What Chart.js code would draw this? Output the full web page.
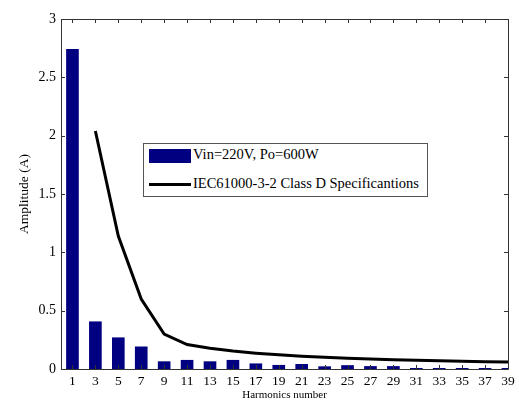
<!DOCTYPE html>
<html>
<head>
<meta charset="utf-8">
<script src="https://cdn.jsdelivr.net/npm/chart.js@4.4.0/dist/chart.umd.min.js"></script>
<style>
  html, body { margin: 0; padding: 0; background: #fff; }
  #wrap { position: relative; width: 519px; height: 402px; }
  #legend {
    position: absolute; left: 143px; top: 143px; width: 283px; height: 52px;
    border: 1px solid #555; background: #fff;
    font-family: "Liberation Serif", "Times New Roman", serif; font-size: 14.5px; color: #000;
  }
  .row { position: absolute; left: 5px; height: 16px; line-height: 16px; white-space: nowrap; }
  .sw { display: inline-block; width: 42px; vertical-align: middle; margin-right: 2px; }
</style>
</head>
<body>
<div id="wrap">
  <canvas id="c" width="519" height="402"></canvas>
  <div id="legend">
    <div class="row" style="top:2px"><span class="sw" style="height:14px;background:#000080"></span><span id="l1"></span></div>
    <div class="row" style="top:31px"><span class="sw" style="height:3px;background:#000"></span><span id="l2"></span></div>
  </div>
</div>
<script>
// Data
const harmonics = [1,3,5,7,9,11,13,15,17,19,21,23,25,27,29,31,33,35,37,39];
const measured  = [2.74,0.405,0.268,0.19,0.063,0.075,0.063,0.075,0.045,0.032,0.04,0.02,0.03,0.022,0.022,0.006,0.006,0.006,0.006,0.006];
const limitOrders = [3,5,7,9,11,13,15,17,19,21,23,25,27,29,31,33,35,37,39];
const limitValues = [2.04,1.14,0.6,0.3,0.21,0.178,0.154,0.136,0.122,0.11,0.1,0.092,0.086,0.08,0.075,0.07,0.066,0.062,0.059];
const yTicks = [0,0.5,1,1.5,2,2.5,3];
const seriesLabels = ['Vin=220V, Po=600W','IEC61000-3-2 Class D Specificantions'];

document.getElementById('l1').textContent = seriesLabels[0];
document.getElementById('l2').textContent = seriesLabels[1];

const fam = '"Liberation Serif", "Times New Roman", serif';

const frame = {
  id: 'frame',
  afterDraw(chart) {
    const ctx = chart.ctx, a = chart.chartArea;
    const xs = chart.scales.x, ys = chart.scales.y;
    ctx.save();
    ctx.strokeStyle = '#333';
    ctx.lineWidth = 1;
    ctx.beginPath();
    ctx.rect(Math.round(a.left)+0.5, Math.round(a.top)+0.5, Math.round(a.right-a.left), Math.round(a.bottom-a.top));
    ctx.stroke();
    const tl = 4;
    ctx.beginPath();
    xs.ticks.forEach(t => {
      const px = Math.round(xs.getPixelForValue(t.value)) + 0.5;
      ctx.moveTo(px, a.bottom); ctx.lineTo(px, a.bottom - tl);
      ctx.moveTo(px, a.top); ctx.lineTo(px, a.top + tl);
    });
    ys.ticks.forEach(t => {
      const py = Math.round(ys.getPixelForValue(t.value)) + 0.5;
      ctx.moveTo(a.left, py); ctx.lineTo(a.left + tl, py);
      ctx.moveTo(a.right, py); ctx.lineTo(a.right - tl, py);
    });
    ctx.stroke();
    ctx.restore();
  }
};

new Chart(document.getElementById('c'), {
  type: 'bar',
  data: {
    datasets: [
      {
        type: 'line',
        label: seriesLabels[1],
        data: limitOrders.map((h, i) => ({ x: h, y: limitValues[i] })),
        borderColor: '#000', borderWidth: 3, pointRadius: 0, tension: 0, fill: false
      },
      {
        label: seriesLabels[0],
        data: harmonics.map((h, i) => ({ x: h, y: measured[i] })),
        backgroundColor: '#000080', barThickness: 12
      }
    ]
  },
  options: {
    responsive: false, animation: false,
    layout: { padding: { left: 0, right: 11, top: 19, bottom: 0 }, autoPadding: false },
    plugins: { legend: { display: false }, tooltip: { enabled: false } },
    scales: {
      x: {
        type: 'linear', min: 0, max: 39, offset: false,
        afterBuildTicks: s => { s.ticks = harmonics.map(v => ({ value: v })); },
        afterFit: s => { s.height = 33; },
        grid: { display: false, drawTicks: false },
        border: { display: false },
        ticks: { font: { family: fam, size: 13.5 }, color: '#000', padding: 4, maxRotation: 0, autoSkip: false },
        title: { display: true, text: 'Harmonics number', font: { family: fam, size: 11 }, color: '#000', padding: { top: 0, bottom: 0 } }
      },
      y: {
        min: 0, max: 3,
        afterBuildTicks: s => { s.ticks = yTicks.map(v => ({ value: v })); },
        afterFit: s => { s.width = 61; },
        grid: { display: false, drawTicks: false },
        border: { display: false },
        ticks: { font: { family: fam, size: 14 }, color: '#000', padding: 5, callback: v => String(v) },
        title: { display: true, text: 'Amplitude (A)', font: { family: fam, size: 13.5 }, color: '#000', padding: { top: 16, bottom: 0 } }
      }
    }
  },
  plugins: [frame]
});
</script>
</body>
</html>
